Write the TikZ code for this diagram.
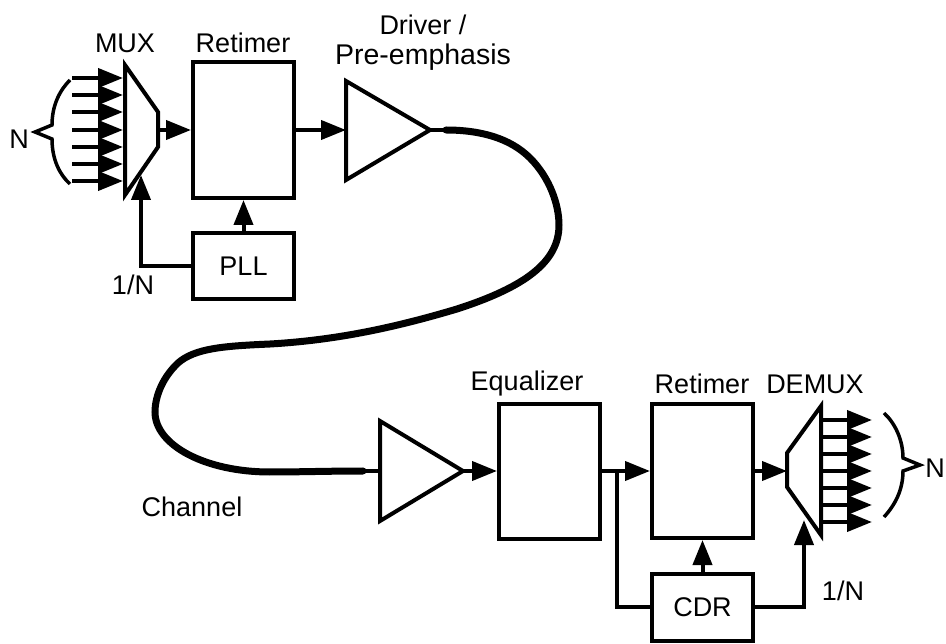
\documentclass[tikz,border=0pt]{standalone}
\usepackage{fontspec}
\setmainfont{Liberation Sans}
\usetikzlibrary{arrows.meta}
\tikzset{
  ln/.style={line width=4pt,line join=miter},
  sig/.style={ln,-{Triangle[length=25pt,width=19pt,sep=0pt]},shorten >=0pt},
  block/.style={draw,line width=4pt,rectangle,inner sep=0pt,anchor=north west},
  lab/.style={font=\fontsize{27}{27}\selectfont,inner sep=0pt,anchor=center},
  chan/.style={line width=7pt,line cap=round}
}
\begin{document}
\begin{tikzpicture}[x=1pt,y=-1pt]
\useasboundingbox (0,0) rectangle (946,644);
% blocks
\node[block,minimum width=101pt,minimum height=136pt] (ret1) at (191,60) {};
\node[block,minimum width=101pt,minimum height=66pt] (pll) at (191,231) {};
\node[block,minimum width=101pt,minimum height=135pt] (eq) at (497,402) {};
\node[block,minimum width=101pt,minimum height=134pt] (ret2) at (650,402) {};
\node[block,minimum width=101pt,minimum height=67pt] (cdr) at (650,572) {};
% coordinates
\coordinate (muxo) at (158,130);
\coordinate (drvi) at (346,130);
\coordinate (drvo) at (430,130);
\coordinate (chs) at (446,130);
\coordinate (che) at (363,471);
\coordinate (rxi) at (380,471);
\coordinate (rxo) at (463,471);
\coordinate (dmi) at (787,471);
\coordinate (muxclk) at (141,175);
\coordinate (dmclk) at (804,520);
\coordinate (muxcor) at (141,266);
\coordinate (dmcor) at (804,607);
\coordinate (brch) at (617,471);
\coordinate (brcd) at (617,607);
% input / output buses
\foreach \y in {78,95,112,130,147,164,181}{
  \coordinate (a) at (72,\y); \coordinate (b) at (123,\y);
  \draw[sig] (a) -- (b);
}
\foreach \y in {420,437,454,471,488,505,522}{
  \coordinate (a) at (821,\y); \coordinate (b) at (872,\y);
  \draw[sig] (a) -- (b);
}
% mux, drivers
\draw[ln,fill=white] (125,65) -- (158,112) -- (158,147) -- (125,195) -- cycle;
\draw[ln,fill=white] (821,406) -- (787,453) -- (787,487) -- (821,535) -- cycle;
\draw[ln] (346,81) -- (drvo) -- (346,180) -- cycle;
\draw[ln] (380,421) -- (rxo) -- (380,521) -- cycle;
% connectors
\draw[sig] (muxo) -- (ret1.west |- muxo);
\draw[sig] (ret1.east |- drvi) -- (drvi);
\draw[sig] (rxo) -- (eq.west |- rxo);
\draw[sig] (eq.east |- rxo) -- (ret2.west |- rxo);
\draw[sig] (ret2.east |- dmi) -- (dmi);
\draw[sig] (pll.north) -- (ret1.south);
\draw[sig] (cdr.north) -- (ret2.south);
\draw[sig] (pll.west |- muxcor) -- (muxcor) -- (muxclk);
\draw[sig] (cdr.east |- dmcor) -- (dmcor) -- (dmclk);
\draw[ln] (brch) -- (brcd) -- (cdr.west |- brcd);
\draw[line width=3.5pt] (drvo) -- (chs);
\draw[line width=3.5pt] (che) -- (rxi);
% channel
\draw[chan] (chs) .. controls (480,130) and (510,138) .. (530,158)
  .. controls (550,178) and (559,205) .. (559,225)
  .. controls (559,262) and (525,287) .. (457,309)
  .. controls (400,326) and (340,340) .. (270,344)
  .. controls (225,346) and (195,348) .. (178,363)
  .. controls (160,380) and (155,400) .. (155,412)
  .. controls (155,445) and (205,472) .. (270,472)
  .. controls (300,472) and (330,471) .. (che);
% braces
\draw[line width=3.5pt,line join=miter] (70,80) .. controls (60,90) and (52,105) .. (52,125)
  -- (35,132) -- (52,139) .. controls (52,160) and (60,175) .. (70,184);
\draw[line width=3.5pt,line join=miter] (884,413) .. controls (895,423) and (903,440) .. (903,458)
  -- (920,465) -- (903,471) .. controls (903,490) and (895,505) .. (884,517);
% labels
\node[lab] (l1) at (125,43) {MUX};
\node[lab] (l2) at (243,43) {Retimer};
\node[lab] (l3) at (423,25) {Driver /};
\node[lab,font=\fontsize{28.5}{28}\selectfont] (l4) at (423,57) {Pre-emphasis};
\node[lab] (l5) at (19,139) {N};
\node[lab] (l6) at (133,285) {1/N};
\node[lab] (l7) at (pll) {PLL};
\node[lab] (l8) at (192,507) {Channel};
\node[lab] (l9) at (527,384) {Equalizer};
\node[lab] (l10) at (702,384) {Retimer};
\node[lab] (l11) at (815,384) {DEMUX};
\node[lab] (l12) at (cdr) {CDR};
\node[lab] (l13) at (843,591) {1/N};
\node[lab] (l14) at (935,468) {N};
\end{tikzpicture}
\end{document}
